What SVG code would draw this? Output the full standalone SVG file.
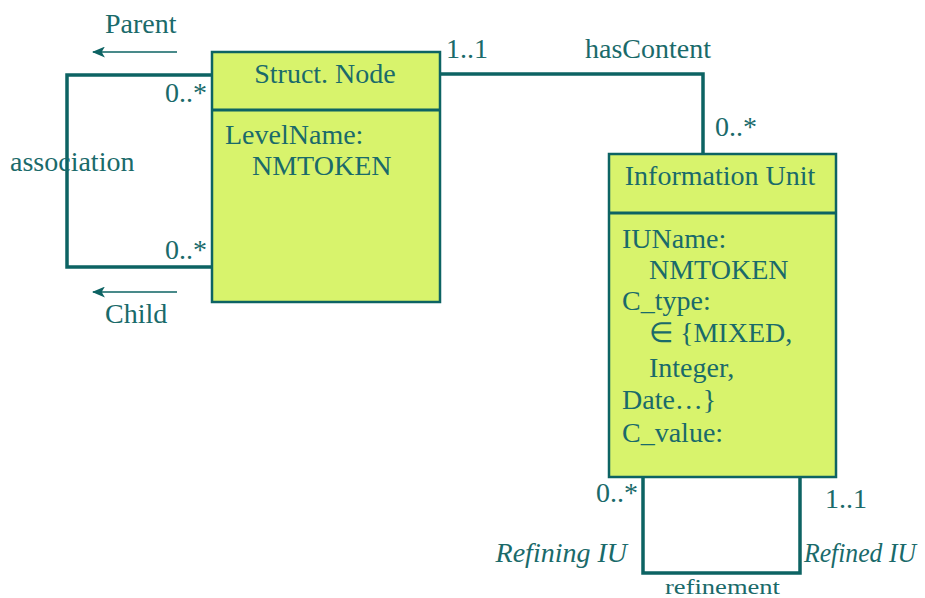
<svg xmlns="http://www.w3.org/2000/svg" width="925" height="598" viewBox="0 0 925 598">
<defs>
<style>
.t{font-family:"Liberation Serif","Times New Roman",serif;font-size:28px;fill:#1a6a6a}
.i{font-style:italic}
.box{fill:#d8f36c;stroke:#0d6363;stroke-width:2.5}
.div{stroke:#0d6363;stroke-width:3}
.conn{fill:none;stroke:#0d6363;stroke-width:3.5}
.arr{stroke:#0d6363;stroke-width:1.6}
</style>
<marker id="ah" viewBox="0 0 12 10" refX="11" refY="5" markerWidth="13" markerHeight="11" markerUnits="userSpaceOnUse" orient="auto">
<path d="M0,0 L12,5 L0,10 L3,5 Z" fill="#0d6363"/>
</marker>
</defs>
<rect width="925" height="598" fill="#ffffff"/>
<g id="connectors">
<polyline class="conn" points="212,75 67,75 67,267 212,267"/>
<polyline class="conn" points="440,74 703,74 703,154"/>
<polyline class="conn" points="643,477 643,573 800,573 800,477"/>
<line class="arr" x1="177" y1="52" x2="93" y2="52" marker-end="url(#ah)"/>
<line class="arr" x1="177" y1="292" x2="93" y2="292" marker-end="url(#ah)"/>
<text class="t" x="105" y="33">Parent</text>
<text class="t" x="105" y="323">Child</text>
<text class="t" x="10" y="171">association</text>
<text class="t" x="207" y="102" text-anchor="end">0..*</text>
<text class="t" x="207" y="259" text-anchor="end">0..*</text>
<text class="t" x="446" y="58">1..1</text>
<text class="t" x="585" y="58">hasContent</text>
<text class="t" x="715" y="136">0..*</text>
<text class="t" x="638" y="502" text-anchor="end">0..*</text>
<text class="t" x="825" y="508">1..1</text>
<text class="t i" x="627" y="562" text-anchor="end">Refining IU</text>
<text class="t i" x="804" y="562" textLength="112" lengthAdjust="spacingAndGlyphs">Refined IU</text>
<text class="t" x="665" y="594" style="font-size:20px" textLength="115" lengthAdjust="spacingAndGlyphs">refinement</text>
</g>
<g id="struct-node">
<rect class="box" x="212" y="52" width="228" height="250"/>
<line class="div" x1="212" y1="110" x2="440" y2="110"/>
<text class="t" x="325" y="83" text-anchor="middle">Struct. Node</text>
<text class="t" x="225" y="144">LevelName:</text>
<text class="t" x="252" y="175">NMTOKEN</text>
</g>
<g id="information-unit">
<rect class="box" x="609" y="154" width="227" height="323"/>
<line class="div" x1="609" y1="213" x2="836" y2="213"/>
<text class="t" x="720" y="185" text-anchor="middle">Information Unit</text>
<text class="t" x="622" y="248">IUName:</text>
<text class="t" x="649" y="279">NMTOKEN</text>
<text class="t" x="622" y="310">C_type:</text>
<text class="t" x="649" y="342">∈ {MIXED,</text>
<text class="t" x="649" y="377">Integer,</text>
<text class="t" x="622" y="409">Date…}</text>
<text class="t" x="622" y="442">C_value:</text>
</g>
</svg>
